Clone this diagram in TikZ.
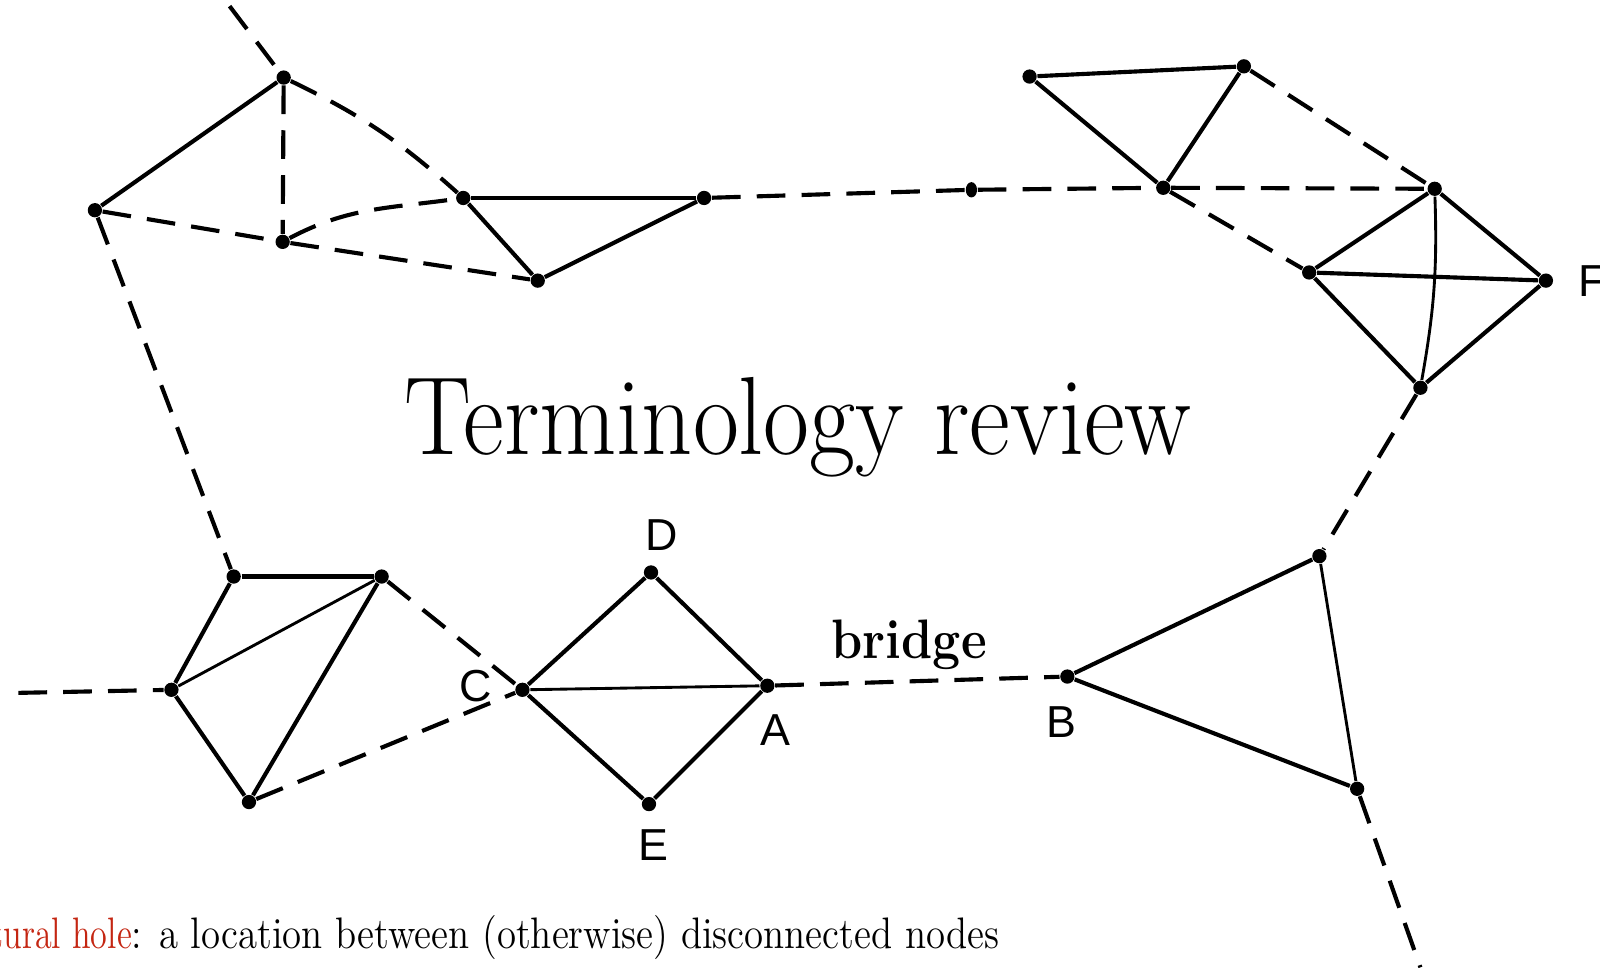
\documentclass[tikz,border=0pt]{standalone}
\usepackage{fontspec}
\usetikzlibrary{shapes.geometric}
\newfontfamily\lblfont{Liberation Sans}
\definecolor{holered}{RGB}{196,38,18}
\begin{document}
\begin{tikzpicture}[x=0.1mm,y=-0.1mm,
  dot/.style={circle,fill=black,inner sep=0pt,minimum size=1.4mm},
  smalldot/.style={ellipse,fill=black,inner sep=0pt,minimum width=1.1mm,minimum height=1.5mm},
  sol/.style={line width=1.15pt},
  thn/.style={line width=0.8pt},
  dsh/.style={line width=1.15pt,dash pattern=on 8pt off 4.5pt},
  lbl/.style={inner sep=0pt,font=\lblfont\fontsize{12.5}{12.5}\selectfont},
  txt/.style={inner sep=0pt}]
\useasboundingbox (0,0) rectangle (1568,948);
\clip (0,0) rectangle (1568,948);
% top-left cluster
\node[dot] (n1) at (278,76) {};
\node[dot] (n2) at (93,206) {};
\node[dot] (n3) at (277,237) {};
\node[dot] (n4) at (454,194) {};
\node[dot] (n5) at (527,275) {};
\node[dot] (n6) at (690,194) {};
\node[smalldot] (m) at (952,186) {};
\coordinate (t0) at (225,6);
% top-right cluster
\node[dot] (r1) at (1009,75) {};
\node[dot] (r2) at (1219,65) {};
\node[dot] (n7) at (1140,184) {};
\node[dot] (r3) at (1406,185) {};
\node[dot] (r4) at (1283,267) {};
\node[dot] (fF) at (1515,275) {};
\node[dot] (r5) at (1392,380) {};
% bottom-right
\node[dot] (s1) at (1293,545) {};
\node[dot] (B) at (1046,663) {};
\node[dot] (s2) at (1330,773) {};
\coordinate (b0) at (1392,948);
% bottom-left
\node[dot] (l1) at (229,565) {};
\node[dot] (l2) at (374,565) {};
\node[dot] (l3) at (168,676) {};
\node[dot] (l4) at (244,786) {};
\coordinate (w0) at (18,679);
% diamond
\node[dot] (C) at (512,676) {};
\node[dot] (D) at (638,561) {};
\node[dot] (A) at (752,672) {};
\node[dot] (E) at (636,788) {};

% edges top-left
\draw[dsh] (t0) -- (n1);
\draw[sol] (n1) -- (n2);
\draw[dsh] (n1) -- (n3);
\draw[dsh] (n1) to[bend left=8] (n4);
\draw[dsh] (n2) -- (n3);
\draw[dsh] (n3) -- (n5);
\draw[dsh] (n3) to[out=28,in=188] (n4);
\draw[sol] (n4) -- (n5);
\draw[sol] (n4) -- (n6);
\draw[sol] (n5) -- (n6);
\draw[dsh] (n6) -- (m);
\draw[dsh] (m) -- (n7);
\draw[dsh] (n2) -- (l1);
% edges top-right
\draw[sol] (r1) -- (r2);
\draw[sol] (r1) -- (n7);
\draw[sol] (r2) -- (n7);
\draw[dsh] (r2) -- (r3);
\draw[dsh] (n7) -- (r3);
\draw[dsh] (n7) -- (r4);
\draw[sol] (r3) -- (r4);
\draw[sol] (r3) -- (fF);
\draw[sol] (r4) -- (fF);
\draw[thn] (r3) to[bend left=6] (r5);
\draw[sol] (r4) -- (r5);
\draw[sol] (fF) -- (r5);
\draw[dsh] (r5) -- (s1);
% bottom-right
\draw[sol] (s1) -- (B);
\draw[sol] (B) -- (s2);
\draw[thn] (s1) -- (s2);
\draw[dsh] (s2) -- (b0);
\draw[dsh] (A) -- (B);
% bottom-left
\draw[dsh] (w0) -- (l3);
\draw[sol] (l1) -- (l2);
\draw[sol] (l1) -- (l3);
\draw[thn] (l2) -- (l3);
\draw[sol] (l2) -- (l4);
\draw[sol] (l3) -- (l4);
\draw[dsh] (l2) -- (C);
\draw[dsh] (l4) -- (C);
% diamond
\draw[sol] (C) -- (D);
\draw[sol] (D) -- (A);
\draw[thn] (C) -- (A);
\draw[sol] (C) -- (E);
\draw[sol] (E) -- (A);

% labels
\node[lbl] (labD) at (648,524) {D};
\node[lbl] (labC) at (466,672) {C};
\node[lbl] (labA) at (760,715) {A};
\node[lbl] (labE) at (640,828) {E};
\node[lbl] (labB) at (1040,708) {B};
\node[lbl,anchor=west] (labF) at (1546,275) {F};
\node[txt,anchor=base] (bridge) at (891,645) {\scalebox{0.9}[1]{\fontsize{15.5}{15.5}\selectfont\bfseries bridge}};
\node[txt,anchor=base] (title) at (782,445) {\scalebox{0.9}[1]{\fontsize{31}{31}\selectfont Terminology review}};
\node[txt,anchor=base east] (hole) at (980,930) {\scalebox{0.88}[1]{\fontsize{12.3}{12.3}\selectfont{\color{holered}\scalebox{0.88}[1]{structural hole}}: a location between (otherwise) disconnected nodes}};
\end{tikzpicture}
\end{document}
